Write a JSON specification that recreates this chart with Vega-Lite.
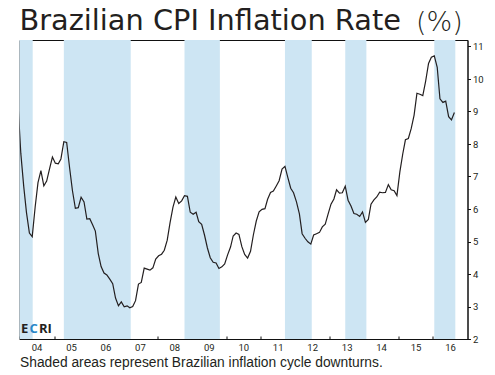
{
  "$schema": "https://vega.github.io/schema/vega-lite/v6.json",
  "autosize": {"type": "none"},
  "width": 448,
  "height": 299,
  "padding": {"left": 19.5, "top": 40, "right": 27.5, "bottom": 36},
  "background": "white",
  "config": {
    "view": {"stroke": "#111111", "strokeWidth": 1},
    "axis": {"labelFont": "Liberation Sans Narrow, Roboto", "labelFontSize": 9.5, "labelColor": "#231f20", "tickColor": "#111111", "domainColor": "#111111", "grid": false, "titleColor": "#231f20"}
  },
  "title": {
    "text": "Brazilian CPI Inflation Rate",
    "anchor": "start",
    "font": "DejaVu Sans",
    "fontSize": 28.8,
    "fontWeight": "normal",
    "color": "#231f20",
    "offset": 4,
    "dy": 32,
    "frame": "group"
  },
  "datasets": {
    "cpi": [
      {"d": "2003-12-15", "v": 9.30},
      {"d": "2004-01-15", "v": 7.71}, {"d": "2004-02-15", "v": 6.69}, {"d": "2004-03-15", "v": 5.89}, {"d": "2004-04-15", "v": 5.26}, {"d": "2004-05-15", "v": 5.15}, {"d": "2004-06-15", "v": 6.06}, {"d": "2004-07-15", "v": 6.81}, {"d": "2004-08-15", "v": 7.18}, {"d": "2004-09-15", "v": 6.71}, {"d": "2004-10-15", "v": 6.86}, {"d": "2004-11-15", "v": 7.24}, {"d": "2004-12-15", "v": 7.60},
      {"d": "2005-01-15", "v": 7.41}, {"d": "2005-02-15", "v": 7.39}, {"d": "2005-03-15", "v": 7.54}, {"d": "2005-04-15", "v": 8.07}, {"d": "2005-05-15", "v": 8.05}, {"d": "2005-06-15", "v": 7.27}, {"d": "2005-07-15", "v": 6.57}, {"d": "2005-08-15", "v": 6.02}, {"d": "2005-09-15", "v": 6.04}, {"d": "2005-10-15", "v": 6.36}, {"d": "2005-11-15", "v": 6.22}, {"d": "2005-12-15", "v": 5.69},
      {"d": "2006-01-15", "v": 5.70}, {"d": "2006-02-15", "v": 5.51}, {"d": "2006-03-15", "v": 5.32}, {"d": "2006-04-15", "v": 4.63}, {"d": "2006-05-15", "v": 4.23}, {"d": "2006-06-15", "v": 4.03}, {"d": "2006-07-15", "v": 3.97}, {"d": "2006-08-15", "v": 3.84}, {"d": "2006-09-15", "v": 3.70}, {"d": "2006-10-15", "v": 3.26}, {"d": "2006-11-15", "v": 3.02}, {"d": "2006-12-15", "v": 3.14},
      {"d": "2007-01-15", "v": 2.99}, {"d": "2007-02-15", "v": 3.02}, {"d": "2007-03-15", "v": 2.96}, {"d": "2007-04-15", "v": 3.00}, {"d": "2007-05-15", "v": 3.18}, {"d": "2007-06-15", "v": 3.69}, {"d": "2007-07-15", "v": 3.74}, {"d": "2007-08-15", "v": 4.18}, {"d": "2007-09-15", "v": 4.15}, {"d": "2007-10-15", "v": 4.12}, {"d": "2007-11-15", "v": 4.19}, {"d": "2007-12-15", "v": 4.46},
      {"d": "2008-01-15", "v": 4.56}, {"d": "2008-02-15", "v": 4.61}, {"d": "2008-03-15", "v": 4.73}, {"d": "2008-04-15", "v": 5.04}, {"d": "2008-05-15", "v": 5.58}, {"d": "2008-06-15", "v": 6.06}, {"d": "2008-07-15", "v": 6.37}, {"d": "2008-08-15", "v": 6.17}, {"d": "2008-09-15", "v": 6.25}, {"d": "2008-10-15", "v": 6.41}, {"d": "2008-11-15", "v": 6.39}, {"d": "2008-12-15", "v": 5.90},
      {"d": "2009-01-15", "v": 5.84}, {"d": "2009-02-15", "v": 5.90}, {"d": "2009-03-15", "v": 5.61}, {"d": "2009-04-15", "v": 5.53}, {"d": "2009-05-15", "v": 5.20}, {"d": "2009-06-15", "v": 4.80}, {"d": "2009-07-15", "v": 4.50}, {"d": "2009-08-15", "v": 4.36}, {"d": "2009-09-15", "v": 4.34}, {"d": "2009-10-15", "v": 4.17}, {"d": "2009-11-15", "v": 4.22}, {"d": "2009-12-15", "v": 4.31},
      {"d": "2010-01-15", "v": 4.59}, {"d": "2010-02-15", "v": 4.83}, {"d": "2010-03-15", "v": 5.17}, {"d": "2010-04-15", "v": 5.26}, {"d": "2010-05-15", "v": 5.22}, {"d": "2010-06-15", "v": 4.84}, {"d": "2010-07-15", "v": 4.60}, {"d": "2010-08-15", "v": 4.49}, {"d": "2010-09-15", "v": 4.70}, {"d": "2010-10-15", "v": 5.20}, {"d": "2010-11-15", "v": 5.63}, {"d": "2010-12-15", "v": 5.91},
      {"d": "2011-01-15", "v": 5.99}, {"d": "2011-02-15", "v": 6.01}, {"d": "2011-03-15", "v": 6.30}, {"d": "2011-04-15", "v": 6.51}, {"d": "2011-05-15", "v": 6.55}, {"d": "2011-06-15", "v": 6.71}, {"d": "2011-07-15", "v": 6.87}, {"d": "2011-08-15", "v": 7.23}, {"d": "2011-09-15", "v": 7.31}, {"d": "2011-10-15", "v": 6.97}, {"d": "2011-11-15", "v": 6.64}, {"d": "2011-12-15", "v": 6.50},
      {"d": "2012-01-15", "v": 6.22}, {"d": "2012-02-15", "v": 5.85}, {"d": "2012-03-15", "v": 5.24}, {"d": "2012-04-15", "v": 5.10}, {"d": "2012-05-15", "v": 4.99}, {"d": "2012-06-15", "v": 4.92}, {"d": "2012-07-15", "v": 5.20}, {"d": "2012-08-15", "v": 5.24}, {"d": "2012-09-15", "v": 5.28}, {"d": "2012-10-15", "v": 5.45}, {"d": "2012-11-15", "v": 5.53}, {"d": "2012-12-15", "v": 5.84},
      {"d": "2013-01-15", "v": 6.15}, {"d": "2013-02-15", "v": 6.31}, {"d": "2013-03-15", "v": 6.59}, {"d": "2013-04-15", "v": 6.49}, {"d": "2013-05-15", "v": 6.50}, {"d": "2013-06-15", "v": 6.70}, {"d": "2013-07-15", "v": 6.27}, {"d": "2013-08-15", "v": 6.09}, {"d": "2013-09-15", "v": 5.86}, {"d": "2013-10-15", "v": 5.84}, {"d": "2013-11-15", "v": 5.77}, {"d": "2013-12-15", "v": 5.91},
      {"d": "2014-01-15", "v": 5.59}, {"d": "2014-02-15", "v": 5.68}, {"d": "2014-03-15", "v": 6.15}, {"d": "2014-04-15", "v": 6.28}, {"d": "2014-05-15", "v": 6.37}, {"d": "2014-06-15", "v": 6.52}, {"d": "2014-07-15", "v": 6.50}, {"d": "2014-08-15", "v": 6.51}, {"d": "2014-09-15", "v": 6.75}, {"d": "2014-10-15", "v": 6.59}, {"d": "2014-11-15", "v": 6.56}, {"d": "2014-12-15", "v": 6.41},
      {"d": "2015-01-15", "v": 7.14}, {"d": "2015-02-15", "v": 7.70}, {"d": "2015-03-15", "v": 8.13}, {"d": "2015-04-15", "v": 8.17}, {"d": "2015-05-15", "v": 8.47}, {"d": "2015-06-15", "v": 8.89}, {"d": "2015-07-15", "v": 9.56}, {"d": "2015-08-15", "v": 9.53}, {"d": "2015-09-15", "v": 9.49}, {"d": "2015-10-15", "v": 9.93}, {"d": "2015-11-15", "v": 10.48}, {"d": "2015-12-15", "v": 10.67},
      {"d": "2016-01-15", "v": 10.71}, {"d": "2016-02-15", "v": 10.36}, {"d": "2016-03-15", "v": 9.39}, {"d": "2016-04-15", "v": 9.28}, {"d": "2016-05-15", "v": 9.32}, {"d": "2016-06-15", "v": 8.84}, {"d": "2016-07-15", "v": 8.74}, {"d": "2016-08-15", "v": 8.97}
    ],
    "bands": [
      {"start": "2003-12-15", "end": "2004-05-20"},
      {"start": "2005-04-15", "end": "2007-03-25"},
      {"start": "2008-10-15", "end": "2009-10-25"},
      {"start": "2011-09-15", "end": "2012-06-25"},
      {"start": "2013-06-15", "end": "2014-01-25"},
      {"start": "2016-01-15", "end": "2016-08-25"}
    ],
    "logo": [{}]
  },
  "layer": [
    {
      "data": {"name": "bands"},
      "mark": {"type": "rect", "color": "#cde5f3", "clip": true},
      "encoding": {
        "x": {
          "field": "start", "type": "temporal",
          "scale": {"type": "utc", "domain": [{"year": 2004, "month": 1, "date": 1, "utc": true}, {"year": 2017, "month": 1, "date": 1, "utc": true}]},
          "axis": {"orient": "bottom", "values": [{"year": 2004, "month": 1, "date": 1, "utc": true}, {"year": 2005, "month": 1, "date": 1, "utc": true}, {"year": 2006, "month": 1, "date": 1, "utc": true}, {"year": 2007, "month": 1, "date": 1, "utc": true}, {"year": 2008, "month": 1, "date": 1, "utc": true}, {"year": 2009, "month": 1, "date": 1, "utc": true}, {"year": 2010, "month": 1, "date": 1, "utc": true}, {"year": 2011, "month": 1, "date": 1, "utc": true}, {"year": 2012, "month": 1, "date": 1, "utc": true}, {"year": 2013, "month": 1, "date": 1, "utc": true}, {"year": 2014, "month": 1, "date": 1, "utc": true}, {"year": 2015, "month": 1, "date": 1, "utc": true}, {"year": 2016, "month": 1, "date": 1, "utc": true}], "labelExpr": "utcFormat(datum.value, '%y')", "labelOffset": 17, "labelPadding": 6.5, "labelFlush": false, "labelOverlap": false, "tickSize": -3, "domain": false, "title": "Shaded areas represent Brazilian inflation cycle downturns.", "titleFont": "Liberation Sans", "titleFontSize": 13.8, "titleFontWeight": "normal", "titleAnchor": "start", "titleAlign": "left", "titleBaseline": "middle", "titleX": 0, "titleY": 23}
        },
        "x2": {"field": "end"}
      }
    },
    {
      "data": {"name": "cpi"},
      "mark": {"type": "line", "color": "#231f20", "strokeWidth": 1.2, "clip": true},
      "encoding": {
        "x": {
          "field": "d", "type": "temporal",
          "axis": {"orient": "bottom", "values": [{"year": 2004, "month": 1, "date": 1, "utc": true}, {"year": 2005, "month": 1, "date": 1, "utc": true}, {"year": 2006, "month": 1, "date": 1, "utc": true}, {"year": 2007, "month": 1, "date": 1, "utc": true}, {"year": 2008, "month": 1, "date": 1, "utc": true}, {"year": 2009, "month": 1, "date": 1, "utc": true}, {"year": 2010, "month": 1, "date": 1, "utc": true}, {"year": 2011, "month": 1, "date": 1, "utc": true}, {"year": 2012, "month": 1, "date": 1, "utc": true}, {"year": 2013, "month": 1, "date": 1, "utc": true}, {"year": 2014, "month": 1, "date": 1, "utc": true}, {"year": 2015, "month": 1, "date": 1, "utc": true}, {"year": 2016, "month": 1, "date": 1, "utc": true}], "labelExpr": "utcFormat(datum.value, '%y')", "labelOffset": 17, "labelPadding": 6.5, "labelFlush": false, "labelOverlap": false, "tickSize": -3, "domain": false, "title": "Shaded areas represent Brazilian inflation cycle downturns.", "titleFont": "Liberation Sans", "titleFontSize": 13.8, "titleFontWeight": "normal", "titleAnchor": "start", "titleAlign": "left", "titleBaseline": "middle", "titleX": 0, "titleY": 23}
        },
        "y": {
          "field": "v", "type": "quantitative",
          "scale": {"domain": [2, 11.2], "nice": false, "zero": false},
          "axis": {"orient": "right", "values": [2, 3, 4, 5, 6, 7, 8, 9, 10, 11], "labelOverlap": false, "labelPadding": 2, "tickSize": 3, "title": "(%)", "titleAngle": 0, "titleFont": "DejaVu Sans", "titleFontSize": 27, "titleFontWeight": 200, "titleAlign": "left", "titleBaseline": "alphabetic", "titleX": -52, "titleY": -10}
        }
      }
    },
    {
      "data": {"name": "logo"},
      "mark": {"type": "text", "text": "E", "font": "Open Sans", "fontWeight": "bold", "fontSize": 13, "color": "#231f20", "align": "left", "baseline": "alphabetic", "dx": 1.5},
      "encoding": {
        "x": {"datum": {"year": 2004, "month": 1, "date": 1, "utc": true}, "type": "temporal",
          "axis": {"orient": "bottom", "values": [{"year": 2004, "month": 1, "date": 1, "utc": true}, {"year": 2005, "month": 1, "date": 1, "utc": true}, {"year": 2006, "month": 1, "date": 1, "utc": true}, {"year": 2007, "month": 1, "date": 1, "utc": true}, {"year": 2008, "month": 1, "date": 1, "utc": true}, {"year": 2009, "month": 1, "date": 1, "utc": true}, {"year": 2010, "month": 1, "date": 1, "utc": true}, {"year": 2011, "month": 1, "date": 1, "utc": true}, {"year": 2012, "month": 1, "date": 1, "utc": true}, {"year": 2013, "month": 1, "date": 1, "utc": true}, {"year": 2014, "month": 1, "date": 1, "utc": true}, {"year": 2015, "month": 1, "date": 1, "utc": true}, {"year": 2016, "month": 1, "date": 1, "utc": true}], "labelExpr": "utcFormat(datum.value, '%y')", "labelOffset": 17, "labelPadding": 6.5, "labelFlush": false, "labelOverlap": false, "tickSize": -3, "domain": false, "title": "Shaded areas represent Brazilian inflation cycle downturns.", "titleFont": "Liberation Sans", "titleFontSize": 13.8, "titleFontWeight": "normal", "titleAnchor": "start", "titleAlign": "left", "titleBaseline": "middle", "titleX": 0, "titleY": 23}},
        "y": {"datum": 2.2, "type": "quantitative",
          "axis": {"orient": "right", "values": [2, 3, 4, 5, 6, 7, 8, 9, 10, 11], "labelOverlap": false, "labelPadding": 2, "tickSize": 3, "title": "(%)", "titleAngle": 0, "titleFont": "DejaVu Sans", "titleFontSize": 27, "titleFontWeight": 200, "titleAlign": "left", "titleBaseline": "alphabetic", "titleX": -52, "titleY": -10}}
      }
    },
    {
      "data": {"name": "logo"},
      "mark": {"type": "text", "text": "C", "font": "Open Sans", "fontWeight": "bold", "fontSize": 13, "color": "#2a87c8", "align": "left", "baseline": "alphabetic", "dx": 10},
      "encoding": {
        "x": {"datum": {"year": 2004, "month": 1, "date": 1, "utc": true}, "type": "temporal",
          "axis": {"orient": "bottom", "values": [{"year": 2004, "month": 1, "date": 1, "utc": true}, {"year": 2005, "month": 1, "date": 1, "utc": true}, {"year": 2006, "month": 1, "date": 1, "utc": true}, {"year": 2007, "month": 1, "date": 1, "utc": true}, {"year": 2008, "month": 1, "date": 1, "utc": true}, {"year": 2009, "month": 1, "date": 1, "utc": true}, {"year": 2010, "month": 1, "date": 1, "utc": true}, {"year": 2011, "month": 1, "date": 1, "utc": true}, {"year": 2012, "month": 1, "date": 1, "utc": true}, {"year": 2013, "month": 1, "date": 1, "utc": true}, {"year": 2014, "month": 1, "date": 1, "utc": true}, {"year": 2015, "month": 1, "date": 1, "utc": true}, {"year": 2016, "month": 1, "date": 1, "utc": true}], "labelExpr": "utcFormat(datum.value, '%y')", "labelOffset": 17, "labelPadding": 6.5, "labelFlush": false, "labelOverlap": false, "tickSize": -3, "domain": false, "title": "Shaded areas represent Brazilian inflation cycle downturns.", "titleFont": "Liberation Sans", "titleFontSize": 13.8, "titleFontWeight": "normal", "titleAnchor": "start", "titleAlign": "left", "titleBaseline": "middle", "titleX": 0, "titleY": 23}},
        "y": {"datum": 2.2, "type": "quantitative",
          "axis": {"orient": "right", "values": [2, 3, 4, 5, 6, 7, 8, 9, 10, 11], "labelOverlap": false, "labelPadding": 2, "tickSize": 3, "title": "(%)", "titleAngle": 0, "titleFont": "DejaVu Sans", "titleFontSize": 27, "titleFontWeight": 200, "titleAlign": "left", "titleBaseline": "alphabetic", "titleX": -52, "titleY": -10}}
      }
    },
    {
      "data": {"name": "logo"},
      "mark": {"type": "text", "text": "RI", "font": "Open Sans", "fontWeight": "bold", "fontSize": 13, "color": "#231f20", "align": "left", "baseline": "alphabetic", "dx": 19.5},
      "encoding": {
        "x": {"datum": {"year": 2004, "month": 1, "date": 1, "utc": true}, "type": "temporal",
          "axis": {"orient": "bottom", "values": [{"year": 2004, "month": 1, "date": 1, "utc": true}, {"year": 2005, "month": 1, "date": 1, "utc": true}, {"year": 2006, "month": 1, "date": 1, "utc": true}, {"year": 2007, "month": 1, "date": 1, "utc": true}, {"year": 2008, "month": 1, "date": 1, "utc": true}, {"year": 2009, "month": 1, "date": 1, "utc": true}, {"year": 2010, "month": 1, "date": 1, "utc": true}, {"year": 2011, "month": 1, "date": 1, "utc": true}, {"year": 2012, "month": 1, "date": 1, "utc": true}, {"year": 2013, "month": 1, "date": 1, "utc": true}, {"year": 2014, "month": 1, "date": 1, "utc": true}, {"year": 2015, "month": 1, "date": 1, "utc": true}, {"year": 2016, "month": 1, "date": 1, "utc": true}], "labelExpr": "utcFormat(datum.value, '%y')", "labelOffset": 17, "labelPadding": 6.5, "labelFlush": false, "labelOverlap": false, "tickSize": -3, "domain": false, "title": "Shaded areas represent Brazilian inflation cycle downturns.", "titleFont": "Liberation Sans", "titleFontSize": 13.8, "titleFontWeight": "normal", "titleAnchor": "start", "titleAlign": "left", "titleBaseline": "middle", "titleX": 0, "titleY": 23}},
        "y": {"datum": 2.2, "type": "quantitative",
          "axis": {"orient": "right", "values": [2, 3, 4, 5, 6, 7, 8, 9, 10, 11], "labelOverlap": false, "labelPadding": 2, "tickSize": 3, "title": "(%)", "titleAngle": 0, "titleFont": "DejaVu Sans", "titleFontSize": 27, "titleFontWeight": 200, "titleAlign": "left", "titleBaseline": "alphabetic", "titleX": -52, "titleY": -10}}
      }
    }
  ]
}
